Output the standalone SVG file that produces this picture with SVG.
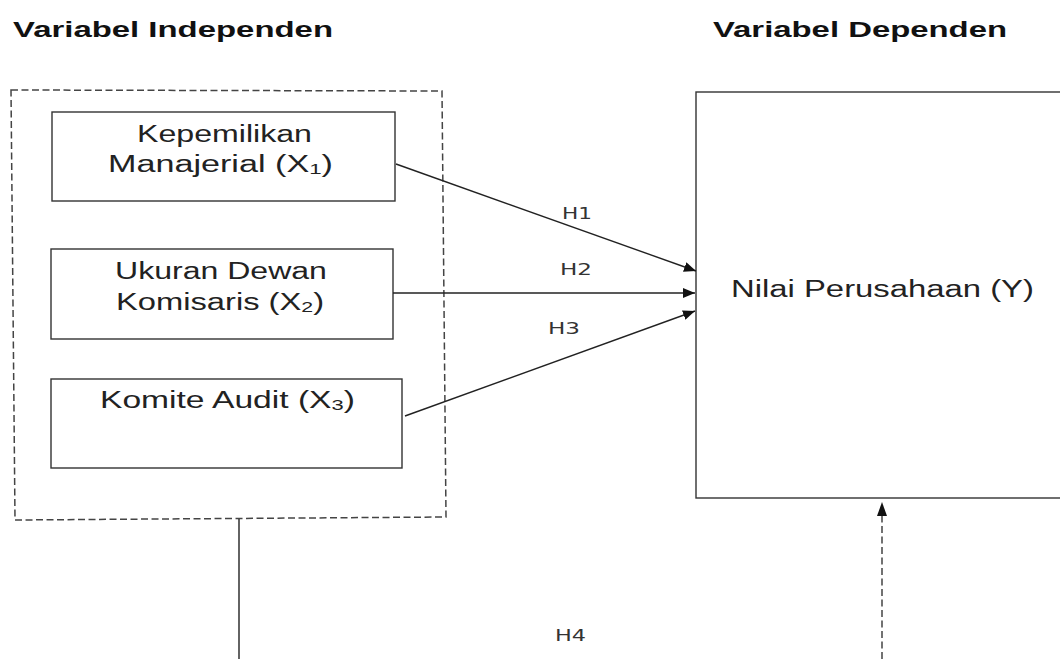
<svg xmlns="http://www.w3.org/2000/svg" width="1060" height="659" viewBox="0 0 1060 659">
<defs>
<style>
.hdr{font-family:"Liberation Sans",Arial,sans-serif;font-weight:bold;font-size:22px;fill:#111}
.lbl{font-family:"Liberation Sans",Arial,sans-serif;font-size:23px;fill:#222}
.h{font-family:"DejaVu Sans","Liberation Sans",sans-serif;font-size:16px;fill:#333}
.box{fill:#fff;stroke:#333;stroke-width:1.4}
.dash{fill:none;stroke:#444;stroke-width:1.5;stroke-dasharray:7 3.5}
.ln{fill:none;stroke:#222;stroke-width:1.4}
.sub{font-size:15px}
</style>
<marker id="ah" viewBox="0 0 12 10" refX="12" refY="5" markerWidth="12" markerHeight="10" markerUnits="userSpaceOnUse" orient="auto">
<path d="M0,0 L12,5 L0,10 Z" fill="#111"/>
</marker>
</defs>
<rect width="1060" height="659" fill="#fff"/>
<g id="headers">
<text class="hdr" transform="scale(1.45,1)" x="8.97" y="37" textLength="220.7" lengthAdjust="spacingAndGlyphs">Variabel Independen</text>
<text class="hdr" transform="scale(1.45,1)" x="491.7" y="37" textLength="202.8" lengthAdjust="spacingAndGlyphs">Variabel Dependen</text>
</g>
<g id="independent-group">
<polygon class="dash" points="11,90 442,91 446,517 15,520"/>
</g>
<g id="x1">
<rect class="box" x="52" y="112" width="343" height="89"/>
<text class="lbl" transform="scale(1.4,1)" x="97.86" y="142" textLength="125" lengthAdjust="spacingAndGlyphs">Kepemilikan</text>
<text class="lbl" transform="scale(1.4,1)" x="77.14" y="172" textLength="160.7" lengthAdjust="spacingAndGlyphs">Manajerial  (X<tspan class="sub" dy="2">1</tspan><tspan dy="-2">)</tspan></text>
</g>
<g id="x2">
<rect class="box" x="51" y="249" width="342" height="90"/>
<text class="lbl" transform="scale(1.4,1)" x="82.14" y="279" textLength="151.4" lengthAdjust="spacingAndGlyphs">Ukuran Dewan</text>
<text class="lbl" transform="scale(1.4,1)" x="82.86" y="310" textLength="148.6" lengthAdjust="spacingAndGlyphs">Komisaris (X<tspan class="sub" dy="2">2</tspan><tspan dy="-2">)</tspan></text>
</g>
<g id="x3">
<rect class="box" x="51" y="379" width="351" height="89"/>
<text class="lbl" transform="scale(1.4,1)" x="71.43" y="408" textLength="182.1" lengthAdjust="spacingAndGlyphs">Komite Audit (X<tspan class="sub" dy="2">3</tspan><tspan dy="-2">)</tspan></text>
</g>
<g id="y">
<rect class="box" x="696" y="92" width="420" height="406"/>
<text class="lbl" transform="scale(1.4,1)" x="522.14" y="297" textLength="216.4" lengthAdjust="spacingAndGlyphs">Nilai Perusahaan (Y)</text>
</g>
<g id="connectors">
<line class="ln" x1="396" y1="164" x2="696" y2="271" marker-end="url(#ah)"/>
<line class="ln" x1="393" y1="293" x2="695" y2="293" marker-end="url(#ah)"/>
<line class="ln" x1="405" y1="416" x2="695" y2="311" marker-end="url(#ah)"/>
<line class="ln" x1="239" y1="519" x2="239" y2="659"/>
<line class="dash" x1="882" y1="659" x2="882" y2="516" stroke-dasharray="6 3.5"/>
<path d="M882,502 L887,516 L877,516 Z" fill="#111"/>
</g>
<g id="labels">
<text class="h" x="562" y="219" textLength="30" lengthAdjust="spacingAndGlyphs">H1</text>
<text class="h" x="560" y="275" textLength="32" lengthAdjust="spacingAndGlyphs">H2</text>
<text class="h" x="548" y="334" textLength="32" lengthAdjust="spacingAndGlyphs">H3</text>
<text class="h" x="555" y="641" textLength="31" lengthAdjust="spacingAndGlyphs">H4</text>
</g>
</svg>
